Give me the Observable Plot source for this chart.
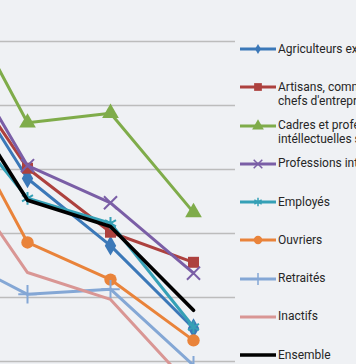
<!DOCTYPE html>
<html><head><meta charset="utf-8">
<script src="https://cdn.jsdelivr.net/npm/d3@7"></script>
<script src="https://cdn.jsdelivr.net/npm/@observablehq/plot@0.6"></script>
<style>
html,body{margin:0;padding:0;background:#eff1f4;}
#wrap{position:relative;width:356px;height:364px;overflow:hidden;background:#eff1f4;font-family:Roboto,"Liberation Sans",sans-serif;}
#chart svg{overflow:hidden;display:block;}
.legsw{position:absolute;left:240px;overflow:visible;}
.legtx{position:absolute;left:278px;white-space:nowrap;font-size:12px;line-height:14px;color:#262626;}
</style>
</head><body>
<div id="wrap"><div id="chart"></div></div>
<script>
// categories (x positions; first one lies left of the visible crop)
const periods = ["P1", "P2", "P3", "P4"];
// series names (legend lines)
const labels = [
  ["Agriculteurs exploitants"],
  ["Artisans, commerçants,", "chefs d'entreprise"],
  ["Cadres et professions", "intéllectuelles supérieures"],
  ["Professions intermédiaires"],
  ["Employés"],
  ["Ouvriers"],
  ["Retraités"],
  ["Inactifs"],
  ["Ensemble"]
];
// series values
const agriculteurs = [79.2, 58.6, 48.1, 35.2];
const artisans     = [79.4, 60.2, 50.2, 45.5];
const cadres       = [91.6, 67.3, 68.8, 53.3];
const professions  = [82.7, 60.6, 54.8, 43.8];
const employes     = [71.6, 55.5, 51.6, 35.4];
const ouvriers     = [72.7, 48.6, 42.8, 33.3];
const retraites    = [47.2, 40.5, 41.3, 29.4];
const inactifs     = [62.7, 43.9, 39.7, 25.6];
const ensemble     = [75.8, 55.2, 51.1, 38.0];
// gridline values
const gridTicks = [30, 40, 50, 60, 70, 80, 90];

const values = [agriculteurs, artisans, cadres, professions, employes, ouvriers, retraites, inactifs, ensemble];
const colors = ["#3b78b8", "#ad413e", "#7fac4a", "#7a5ea6", "#35a0b6", "#e9833a", "#84a7d5", "#d99694", "#000000"];
const symbols = ["diamond", "square", "triangle", "times", "asterisk", "circle", "plus", null, null];
const fillSymbols = new Set(["diamond", "square", "triangle", "circle"]);
const radii = {diamond: 6, square: 6.2, triangle: 6.2, times: 6, asterisk: 6, circle: 6.2, plus: 6};

const marks = [Plot.ruleY(gridTicks, {stroke: "#bcbcbc", strokeWidth: 1.3})];
values.forEach((vals, i) => {
  const rows = periods.map((p, j) => ({period: p, value: vals[j]}));
  marks.push(Plot.line(rows, {x: "period", y: "value", stroke: colors[i], strokeWidth: i === 8 ? 3.6 : 3}));
  const s = symbols[i];
  if (s) {
    if (fillSymbols.has(s)) {
      marks.push(Plot.dot(rows, {x: "period", y: "value", symbol: s, r: radii[s], fill: colors[i], stroke: "none"}));
    } else {
      marks.push(Plot.dot(rows, {x: "period", y: "value", symbol: s, r: radii[s], fill: "none", stroke: colors[i], strokeWidth: 2}));
    }
  }
});

const chart = Plot.plot({
  width: 356, height: 364,
  marginLeft: 0, marginTop: 0, marginBottom: 0, marginRight: 121,
  style: {background: "transparent", overflow: "hidden"},
  x: {type: "point", domain: periods, range: [-56, 193], padding: 0, axis: null},
  y: {domain: [30, 80], range: [361, 41], axis: null},
  marks
});
document.getElementById("chart").appendChild(chart);

// legend
const wrap = document.getElementById("wrap");
const d3sym = {diamond: d3.symbolDiamond, square: d3.symbolSquare, triangle: d3.symbolTriangle,
  times: d3.symbolTimes || d3.symbolCross, asterisk: d3.symbolAsterisk || d3.symbolCross,
  circle: d3.symbolCircle, plus: d3.symbolPlus || d3.symbolCross};
const legSize = {diamond: 30, square: 60, triangle: 60, times: 50, asterisk: 50, circle: 55, plus: 50};
const legTop = 49, legStep = 38.25;
labels.forEach((lines, i) => {
  const cy = legTop + i * legStep;
  const svg = d3.create("svg").attr("class", "legsw").attr("width", 36).attr("height", 14)
    .style("top", (cy - 7) + "px");
  svg.append("line").attr("x1", 0).attr("x2", 36).attr("y1", 7).attr("y2", 7)
    .attr("stroke", colors[i]).attr("stroke-width", i === 8 ? 3.6 : 3);
  const s = symbols[i];
  if (s) {
    const p = svg.append("path").attr("transform", "translate(18,7)")
      .attr("d", d3.symbol(d3sym[s], legSize[s])());
    if (fillSymbols.has(s)) p.attr("fill", colors[i]);
    else p.attr("fill", "none").attr("stroke", colors[i]).attr("stroke-width", 1.5);
  }
  wrap.appendChild(svg.node());
  const tx = document.createElement("div");
  tx.className = "legtx";
  tx.style.top = (cy - 7.5) + "px";
  tx.innerHTML = lines.join("<br>");
  wrap.appendChild(tx);
});
</script>
</body></html>
